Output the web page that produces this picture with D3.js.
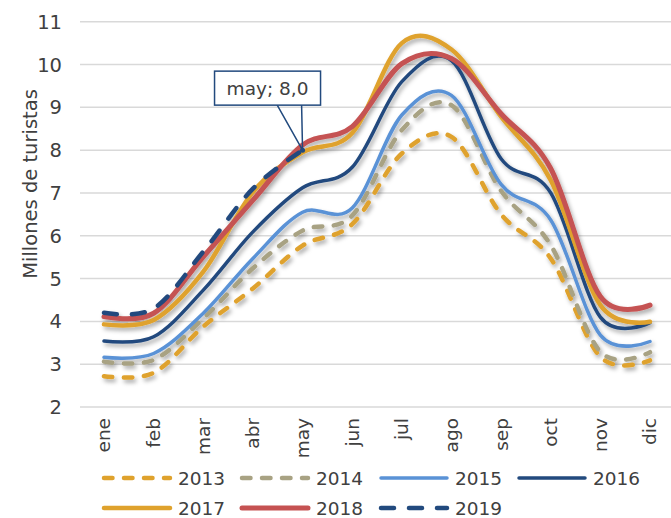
<!DOCTYPE html>
<html><head><meta charset="utf-8">
<script src="https://cdn.jsdelivr.net/npm/d3@7"></script>
<style>
html,body{margin:0;padding:0;background:#fff;}
text{font-family:"DejaVu Sans",sans-serif;fill:#404040;}
</style></head>
<body><svg id="c" width="671" height="518"></svg>
<script>
const months = ["ene","feb","mar","abr","may","jun","jul","ago","sep","oct","nov","dic"];
const yTicks = [2,3,4,5,6,7,8,9,10,11];
const years = ["2013","2014","2015","2016","2017","2018","2019"];
const v2013 = [2.72, 2.80, 3.88, 4.77, 5.77, 6.27, 7.92, 8.31, 6.50, 5.47, 3.17, 3.09];
const v2014 = [3.06, 3.10, 4.07, 5.24, 6.12, 6.47, 8.47, 9.05, 7.05, 5.78, 3.29, 3.28];
const v2015 = [3.16, 3.25, 4.19, 5.47, 6.55, 6.65, 8.82, 9.28, 7.20, 6.37, 3.68, 3.53];
const v2016 = [3.54, 3.64, 4.73, 6.09, 7.12, 7.60, 9.60, 10.09, 7.80, 7.00, 4.10, 3.97];
const v2017 = [3.93, 4.03, 5.16, 7.02, 7.95, 8.40, 10.50, 10.35, 8.78, 7.30, 4.38, 3.99];
const v2018 = [4.11, 4.19, 5.51, 6.83, 8.12, 8.55, 10.02, 10.14, 8.85, 7.57, 4.58, 4.38];
const v2019 = [4.20, 4.30, 5.63, 7.10, 8.00];
const seriesValues = [v2013, v2014, v2015, v2016, v2017, v2018, v2019];
const calloutText = "may; 8,0";

const styles = {
  "2013": {color:"#DFA22D", w:4.5, dash:"8.5,11.5"},
  "2014": {color:"#A8A283", w:4.5, dash:"8.5,11.5"},
  "2015": {color:"#5A92D6", w:3.5, dash:null},
  "2016": {color:"#224A7E", w:3.5, dash:null},
  "2017": {color:"#DFA22D", w:4.5, dash:null},
  "2018": {color:"#C55252", w:5, dash:null},
  "2019": {color:"#224A7E", w:4.5, dash:"13,15"}
};

const svg = d3.select("#c");
const defs = svg.append("defs");
const f = defs.append("filter").attr("id","sh").attr("x","-10%").attr("y","-10%").attr("width","130%").attr("height","130%");
f.append("feDropShadow").attr("dx",2).attr("dy",3).attr("stdDeviation",2).attr("flood-color","#000").attr("flood-opacity",0.33);

const x = d3.scalePoint().domain(months).range([104, 650]);
const y = d3.scaleLinear().domain([2, 11]).range([407, 21.7]);

// gridlines
svg.append("g").selectAll("line").data(yTicks).join("line")
  .attr("x1", 80).attr("x2", 671)
  .attr("y1", d => y(d)).attr("y2", d => y(d))
  .attr("stroke", "#D9D9D9").attr("stroke-width", 1.5);

// y tick labels
svg.append("g").selectAll("text").data(yTicks).join("text")
  .attr("x", 62).attr("y", d => y(d)).attr("dy","0.36em")
  .attr("text-anchor","end").style("font-size","19.5px")
  .text(d => d);

// y title
svg.append("text").attr("transform","translate(30,184) rotate(-90)")
  .attr("text-anchor","middle").attr("dy","0.35em").style("font-size","19.5px")
  .text("Millones de turistas");

// x labels
svg.append("g").selectAll("text").data(months).join("text")
  .attr("transform", d => `translate(${x(d)},418) rotate(-90)`)
  .attr("text-anchor","end").attr("dy","0.35em").style("font-size","18.5px")
  .text(d => d);

// lines
const line = d3.line().x(d => x(d.m)).y(d => y(d.v)).curve(d3.curveCardinal.tension(0));
const lg = svg.append("g").attr("filter","url(#sh)");
years.forEach((yr, i) => {
  const data = seriesValues[i].map((v, j) => ({m: months[j], v}));
  const st = styles[yr];
  lg.append("path").datum(data).attr("d", line)
    .attr("fill","none").attr("stroke", st.color).attr("stroke-width", st.w)
    .attr("stroke-linecap","round").attr("stroke-linejoin","round")
    .attr("stroke-dasharray", st.dash);
});

// callout for 2019 may
const px = x("may"), py = y(v2019[4]);
const cg = svg.append("g");
cg.append("path")
  .attr("d", `M${px-27},${py-48} L${px},${py} M${px-1},${py-48} L${px},${py}`)
  .attr("stroke","#224A7E").attr("stroke-width",1.5).attr("fill","none");
cg.append("circle").attr("cx",px).attr("cy",py).attr("r",2.5).attr("fill","#224A7E");
cg.append("rect").attr("x", px-88).attr("y", py-79).attr("width",106).attr("height",34)
  .attr("fill","#fff").attr("stroke","#224A7E").attr("stroke-width",1.5);
cg.append("text").attr("x", px-35).attr("y", py-62).attr("dy","0.36em")
  .attr("text-anchor","middle").style("font-size","18.5px").text(calloutText);

// legend
const legPos = [[102,478],[240,478],[379,478],[517,478],[102,508],[240,508],[379,508]];
const leg = svg.append("g");
years.forEach((yr, i) => {
  const [lx, ly] = legPos[i];
  const st = styles[yr];
  leg.append("line").attr("x1", lx+2).attr("x2", lx+68).attr("y1", ly).attr("y2", ly)
    .attr("stroke", st.color).attr("stroke-width", st.w)
    .attr("stroke-linecap","round").attr("stroke-dasharray", st.dash);
  leg.append("text").attr("x", lx+76).attr("y", ly).attr("dy","0.36em")
    .style("font-size","18.5px").text(yr);
});
</script></body></html>
